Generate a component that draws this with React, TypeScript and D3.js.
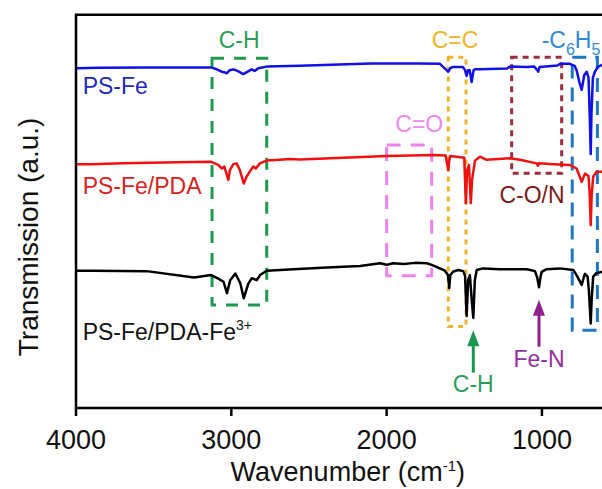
import React from 'react';
import * as d3 from 'd3';

// FTIR spectra, wavenumber axis runs right-to-left
const xTicks = [4000, 3000, 2000, 1000];

// PS-Fe
const blueWn = [4000, 3850, 3545, 3130, 3100, 3084, 3062, 3040, 3030, 3010, 2987, 2960, 2923, 2900, 2869, 2850, 2826, 2772, 2558, 2100, 1800, 1657, 1614, 1603, 1590, 1573, 1509, 1495, 1485, 1475, 1465, 1453, 1440, 1431, 1399, 1225, 1206, 1100, 1050, 1030, 1024, 1015, 900, 884, 820, 790, 777, 760, 744, 728, 712, 700, 692, 686, 681, 672, 659, 640, 616, 580, 500];
const blueT = [86.4, 86.5, 86.6, 86.6, 86.2, 85.9, 85.5, 85.3, 85.1, 85.9, 86.1, 85.7, 84.9, 85.4, 86.1, 85.7, 86.4, 86.8, 87.0, 87.6, 87.6, 87.5, 85.9, 85.5, 86.4, 86.7, 86.7, 85.9, 84.4, 85.9, 85.9, 82.9, 85.9, 86.1, 86.1, 86.3, 86.8, 86.7, 86.8, 85.9, 85.5, 86.7, 87.1, 87.5, 87.5, 87.0, 85.9, 83.0, 80.9, 84.6, 85.5, 84.0, 74.0, 64.6, 75.0, 84.0, 85.5, 86.7, 87.2, 87.2, 87.2];

// PS-Fe/PDA
const redWn = [4000, 3900, 3700, 3350, 3130, 3084, 3062, 3045, 3019, 3009, 2987, 2966, 2945, 2920, 2902, 2881, 2859, 2842, 2816, 2773, 2687, 2622, 2558, 2000, 1700, 1620, 1603, 1597, 1590, 1500, 1490, 1482, 1470, 1458, 1450, 1431, 1399, 1356, 1206, 1142, 1034, 1026, 1020, 927, 820, 777, 744, 723, 700, 692, 686, 680, 670, 650, 616, 500];
const redT = [62.0, 62.0, 62.2, 62.5, 62.6, 61.8, 60.9, 61.4, 58.0, 60.5, 62.0, 62.2, 60.5, 57.1, 58.8, 60.1, 61.4, 60.9, 62.2, 62.9, 63.1, 63.3, 63.2, 64.1, 64.3, 64.2, 60.5, 62.9, 64.1, 63.6, 52.1, 60.5, 61.8, 52.1, 58.0, 62.9, 63.9, 63.1, 63.5, 63.1, 62.2, 61.6, 62.2, 62.0, 61.8, 60.9, 57.5, 59.6, 59.0, 54.0, 46.5, 54.0, 58.8, 60.0, 60.1, 60.2];

// PS-Fe/PDA-Fe3+
const blackWn = [4000, 3890, 3545, 3240, 3130, 3090, 3050, 3028, 3007, 2974, 2942, 2920, 2890, 2868, 2836, 2815, 2772, 2600, 2385, 2170, 2043, 2000, 1959, 1889, 1818, 1740, 1710, 1657, 1625, 1605, 1597, 1590, 1571, 1539, 1507, 1495, 1485, 1475, 1464, 1452, 1442, 1432, 1420, 1378, 1270, 1097, 1045, 1030, 1019, 1008, 1002, 970, 884, 798, 777, 760, 744, 730, 723, 706, 698, 686, 680, 670, 650, 616, 500];
const blackT = [34.9, 34.9, 34.8, 33.2, 33.8, 33.0, 32.1, 29.2, 32.5, 34.2, 31.7, 27.9, 31.7, 33.0, 32.5, 33.8, 34.9, 35.3, 35.7, 36.1, 36.8, 36.4, 36.8, 36.6, 36.9, 36.8, 36.4, 35.5, 34.9, 33.8, 30.5, 33.8, 34.7, 35.1, 34.8, 33.6, 23.4, 32.5, 33.8, 27.5, 22.9, 32.5, 35.1, 35.5, 35.3, 35.3, 34.8, 33.1, 30.7, 33.6, 34.6, 35.3, 35.5, 35.1, 33.8, 32.5, 31.3, 33.3, 34.1, 33.4, 30.0, 21.5, 27.5, 33.4, 34.3, 34.6, 34.8];

// dashed band boxes: [wn left, wn right, top, bottom]
const boxNames = ['C-H', 'C=C', 'C=O', 'C-O/N', 'C6H5'];
const boxWnLeft = [3124, 1603, 2000, 1195, 805];
const boxWnRight = [2772, 1489, 1710, 873, 643];
const boxTop = [88.9, 89.2, 66.9, 89.2, 89.2];
const boxBottom = [26.2, 20.7, 33.6, 59.7, 19.8];

// arrows: [wn, tip, tail]
const arrowNames = ['C-H', 'Fe-N'];
const arrowWn = [1442, 1019];
const arrowTip = [19.8, 27.5];
const arrowTail = [9.0, 15.6];

const boxStyle: Record<string, { color: string; dash: string }> = {
  'C-H': { color: '#1e9a4c', dash: '12 10' },
  'C=C': { color: '#f0b42a', dash: '5 5' },
  'C=O': { color: '#ee82ee', dash: '14 10' },
  'C-O/N': { color: '#9a2e3c', dash: '6 5' },
  C6H5: { color: '#1f77c4', dash: '14 9' },
};

const FONT = '"Liberation Sans", Arial, sans-serif';

export default function App() {
  const x = d3.scaleLinear().domain([4000, 500]).range([76, 619.6]);
  const y = d3.scaleLinear().domain([0, 100]).range([408, 14.7]);
  const line = d3
    .line<[number, number]>()
    .x((d) => x(d[0]))
    .y((d) => y(d[1]));
  const pts = (wn: number[], t: number[]) => wn.map((w, i) => [w, t[i]] as [number, number]);

  const x0 = x(4000);
  const x1 = x(500);
  const yb = y(0);
  const yt = y(100);

  return (
    <svg width={602} height={489} style={{ position: 'absolute', left: 0, top: 0, background: '#fff' }} fontFamily={FONT}>
      {/* band boxes */}
      {boxNames.map((n, i) => (
        <rect
          key={n}
          x={x(boxWnLeft[i])}
          y={y(boxTop[i])}
          width={x(boxWnRight[i]) - x(boxWnLeft[i])}
          height={y(boxBottom[i]) - y(boxTop[i])}
          fill="none"
          stroke={boxStyle[n].color}
          strokeWidth={3}
          strokeDasharray={boxStyle[n].dash}
        />
      ))}

      {/* spectra */}
      <path d={line(pts(blackWn, blackT)) || ''} fill="none" stroke="#000" strokeWidth={2.5} strokeLinejoin="round" />
      <path d={line(pts(redWn, redT)) || ''} fill="none" stroke="#f01010" strokeWidth={2.5} strokeLinejoin="round" />
      <path d={line(pts(blueWn, blueT)) || ''} fill="none" stroke="#1010e8" strokeWidth={2.5} strokeLinejoin="round" />

      {/* frame */}
      <path d={`M${x1},${yt}H${x0}V${yb}H${x1}`} fill="none" stroke="#000" strokeWidth={2.5} />
      {xTicks.map((t) => (
        <g key={t}>
          <line x1={x(t)} x2={x(t)} y1={yb} y2={yb + 8} stroke="#000" strokeWidth={2.5} />
          <text x={x(t)} y={yb + 41} textAnchor="middle" fontSize={27} fill="#111">
            {t}
          </text>
        </g>
      ))}
      <text x={x(2250)} y={yb + 73} textAnchor="middle" fontSize={27} fill="#111">
        Wavenumber (cm<tspan dy={-10} fontSize={15}>-1</tspan>
        <tspan dy={10}>)</tspan>
      </text>
      <text transform={`translate(38,${y(43.5)}) rotate(-90)`} textAnchor="middle" fontSize={28} fill="#111">
        Transmission (a.u.)
      </text>

      {/* series labels */}
      <text x={x(3957)} y={y(79.8)} fontSize={23} fill="#1e28c0">PS-Fe</text>
      <text x={x(3957)} y={y(54.4)} fontSize={23} fill="#dc2020">PS-Fe/PDA</text>
      <text x={x(3957)} y={y(17.3)} fontSize={23} fill="#111">
        PS-Fe/PDA-Fe<tspan dy={-10} fontSize={14}>3+</tspan>
      </text>

      {/* band labels */}
      <text x={x(2950)} y={y(91.5)} textAnchor="middle" fontSize={23} fill="#2a9d5a">C-H</text>
      <text x={x(1560)} y={y(91.5)} textAnchor="middle" fontSize={23} fill="#f0b42a">C=C</text>
      <text x={x(1790)} y={y(70.3)} textAnchor="middle" fontSize={23} fill="#ee8aee">C=O</text>
      <text x={x(1064)} y={y(52.1)} textAnchor="middle" fontSize={23} fill="#7a1a1a">C-O/N</text>
      <text x={x(1002)} y={y(91.5)} fontSize={23} fill="#2f8bd4">
        -C<tspan dy={7} fontSize={16}>6</tspan>
        <tspan dy={-7}>H</tspan>
        <tspan dy={7} fontSize={16}>5</tspan>
      </text>

      {/* arrows */}
      {arrowNames.map((n, i) => {
        const c = n === 'C-H' ? '#1a9850' : '#8e1f8e';
        const ax = x(arrowWn[i]);
        const tip = y(arrowTip[i]);
        return (
          <g key={n}>
            <line x1={ax} x2={ax} y1={tip + 10} y2={y(arrowTail[i])} stroke={c} strokeWidth={3} />
            <path d={`M${ax},${tip}L${ax - 6},${tip + 16}L${ax + 6},${tip + 16}Z`} fill={c} />
          </g>
        );
      })}
      <text x={x(1442)} y={y(4.1)} textAnchor="middle" fontSize={23} fill="#2a9d5a">C-H</text>
      <text x={x(1019)} y={y(10.4)} textAnchor="middle" fontSize={23} fill="#9030a0">Fe-N</text>
    </svg>
  );
}
